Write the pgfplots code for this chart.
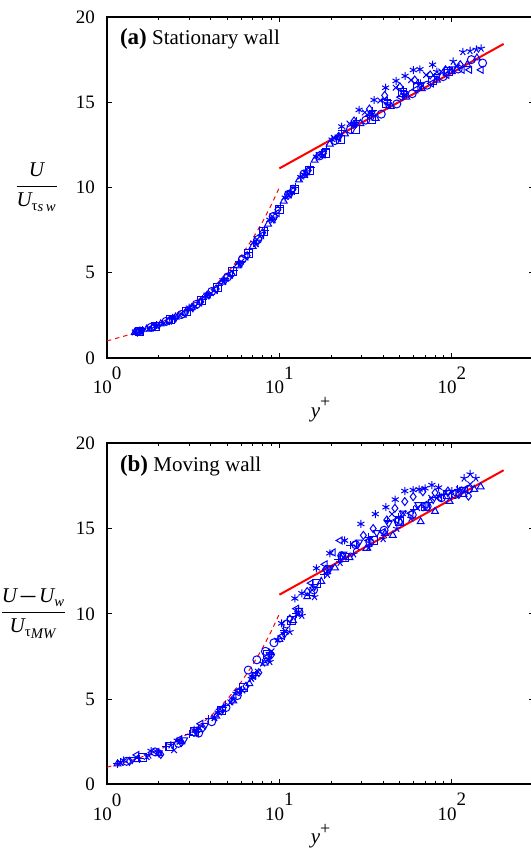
\documentclass[border=0pt]{standalone}
\usepackage{amsmath}
\usepackage{fontspec}
\setmainfont{Liberation Serif}
\usepackage{pgfplots}
\pgfplotsset{compat=1.18}

\pgfplotsset{
  wallax/.style={
    scale only axis, width=213.5pt, height=170.5pt,
    xmin=1, xmax=300, ymin=0, ymax=20,
    xtick={1,10,100},
    xticklabels={{10\raisebox{0.75em}{0}},{10\raisebox{0.75em}{1}},{10\raisebox{0.75em}{2}}},
    ytick={0,5,10,15,20},
    /pgf/number format/assume math mode=true,
    tick label style={font=\fontsize{9.5}{11}\selectfont},
    yticklabel style={xshift=-2.5pt},
    xticklabel style={yshift=-1pt},
    major tick length=2.5pt, minor tick length=1.5pt,
    every tick/.style={black, line width=0.4pt},
    axis line style={line width=1pt},
    label style={font=\fontsize{10.5}{12}\selectfont},
    xlabel={\textit{y}\raisebox{0.45em}{\fontsize{9}{10}\selectfont +}},
    xlabel style={at={(axis description cs:0.5,-0.152)}, anchor=center},
    ylabel style={rotate=-90, anchor=center},
    clip=false,
  },
  pts/.style={only marks, blue, mark size=2pt, mark options={solid, line width=0.5pt, fill=none}},
  tdown/.style={pts, mark=triangle, every mark/.append style={rotate=180}},
  tleft/.style={pts, mark=triangle, every mark/.append style={rotate=90}},
  loglaw/.style={red, line width=1pt},
  linlaw/.style={red, line width=0.5pt, dash pattern=on 2.2pt off 2pt},
}

\begin{document}
\begin{tikzpicture}
\useasboundingbox (0,0) rectangle (265pt,424.5pt);

% ---------------- (a) stationary wall ----------------
\begin{axis}[xmode=log, wallax, at={(53.5pt,245.5pt)}, anchor=south west,
  ylabel={$\dfrac{\textit{U}}{\textit{U}_{\text{τ\raisebox{-0.25ex}{\textit{s\,w}}}}}$},
  ylabel style={at={(axis description cs:-0.165,0.5)}}]
\addplot[linlaw] coordinates {(1,1) (1.5,1.5) (2,2) (3,3) (4,4) (5,5) (6,6) (7,7) (8,8) (9,9) (10,10)};
\addplot[loglaw] coordinates {(10,11.12) (200,18.42)};
% asterisk
\addplot[pts, mark=asterisk] coordinates {(1.55,1.6) (1.9,1.85) (2.4,2.35) (3.0,2.95) (3.8,3.7) (4.7,4.55) (5.8,5.55) (7.1,6.75) (8.8,8.1) (10.8,9.4) (13.3,10.6) (16.4,11.8) (20.2,12.8) (23,13.57) (29,14.55) (35.4,15.13) (41.3,15.85) (47.5,16.25) (53.6,16.54) (59.8,16.89) (65.4,16.93) (77.4,17.2)};
% diamond
\addplot[pts, mark=diamond] coordinates {(1.5,1.52) (1.85,1.8) (2.3,2.2) (2.85,2.65) (3.5,3.3) (4.3,4.05) (5.3,4.9) (6.5,6.0) (8.0,7.35) (9.8,8.7) (12.0,9.9) (14.7,11.0) (18.0,12.0) (22.1,13.0) (27.1,13.9) (33.3,14.6) (40.8,15.4) (50,15.9) (61,16.3) (75,16.6) (92,16.9) (112,17.2)};
% x
\addplot[pts, mark=x] coordinates {(1.45,1.5) (1.75,1.72) (2.15,2.05) (2.65,2.5) (3.25,3.05) (4.0,3.8) (4.9,4.65) (6.0,5.65) (7.4,6.95) (9.1,8.3) (11.2,9.6) (13.7,10.75) (16.9,11.9) (20.7,12.9) (25.5,13.75) (31.3,14.4) (38.5,15.1) (47.3,15.85) (58,16.3) (71,16.6) (87,16.8) (107,17.1)};
% plus
\addplot[pts, mark=+] coordinates {(1.6,1.65) (1.95,1.92) (2.4,2.3) (2.95,2.8) (3.6,3.45) (4.45,4.25) (5.45,5.15) (6.7,6.2) (8.2,7.5) (10.1,8.85) (12.4,10.0) (15.2,11.2) (18.7,12.3) (23,13.35) (28.2,13.9) (34.7,14.5) (42.6,15.1) (52.3,15.7) (64.2,16.1) (79,16.5) (97,16.9)};
% circle
\addplot[pts, mark=o] coordinates {(1.5,1.55) (1.8,1.8) (2.2,2.15) (2.7,2.55) (3.3,3.15) (4.05,3.9) (5.0,4.75) (6.1,5.8) (7.5,6.95) (9.2,8.3) (11.3,9.6) (13.9,10.8) (17.1,11.85) (21,12.75) (25.8,13.4) (31.7,13.95) (39,14.3) (48,14.9) (59,15.5) (72,16.0) (89,16.5) (109,16.95) (130,17.5) (151,17.3)};
% square
\addplot[pts, mark=square] coordinates {(1.55,1.58) (1.9,1.85) (2.35,2.25) (2.9,2.75) (3.55,3.35) (4.35,4.15) (5.35,5.05) (6.6,6.1) (8.1,7.4) (9.95,8.7) (12.2,9.9) (15,11.0) (18.4,12.0) (22.6,12.8) (27.8,13.4) (34.1,14.0) (41.9,14.9) (51.5,15.6) (63.2,15.9) (77.6,16.3) (95.3,16.8)};
% triangle up
\addplot[pts, mark=triangle] coordinates {(1.45,1.5) (1.7,1.7) (2.05,2.0) (2.5,2.4) (3.1,2.95) (3.8,3.65) (4.65,4.45) (5.7,5.4) (7.0,6.55) (8.6,7.85) (10.6,9.2) (13,10.45) (16,11.6) (19.6,12.55) (24,13.15) (29.5,13.75) (36.2,14.05) (44.4,14.75) (54.5,15.3) (67,15.8) (82,16.3) (100,16.8) (123,17.2) (140,17.6)};
% triangle down
\addplot[tdown] coordinates {(1.6,1.6) (2.0,1.95) (2.5,2.35) (3.15,2.95) (3.9,3.7) (4.85,4.55) (6.0,5.55) (7.45,6.8) (9.3,8.15) (11.6,9.65) (14.4,10.85) (17.9,12.0) (22.2,12.95) (27.6,13.7) (34.3,14.35) (42.6,14.85) (53,15.5) (65.8,16.0) (81.7,16.5) (101,16.95)};
% triangle left
\addplot[tleft] coordinates {(1.5,1.55) (1.85,1.82) (2.3,2.2) (2.8,2.6) (3.45,3.25) (4.25,4.0) (5.2,4.9) (6.4,5.95) (7.9,7.2) (9.7,8.5) (11.9,9.8) (14.6,10.95) (18,11.95) (22.1,12.9) (27.2,13.75) (33.4,14.2) (41.1,15.1) (50.5,15.3) (62,15.75) (76.3,16.1) (93.8,16.6) (115,16.9) (127,16.9) (148,16.9)};
% star
\addplot[pts, mark=star] coordinates {(1.55,1.6) (1.95,1.92) (2.45,2.35) (3.05,2.9) (3.8,3.65) (4.75,4.5) (5.9,5.5) (7.35,6.7) (9.2,8.1) (11.4,9.55) (14.2,10.75) (17.7,11.9) (22,13.0) (27.4,13.75) (34.1,14.3) (42.5,14.85) (52.9,15.45) (65.8,16.1) (82,16.8) (102,17.4) (116,17.96) (127.6,18.02) (139,18.1) (148,18.16)};
\node[anchor=base west, font=\fontsize{10.5}{12}\selectfont] at (rel axis cs:0.014,0.918) {{\fontsize{11.5}{13}\selectfont\textbf{(a)}} Stationary wall};
\end{axis}

% ---------------- (b) moving wall ----------------
\begin{axis}[xmode=log, wallax, at={(53.5pt,32.35pt)}, anchor=south west,
  ylabel={$\dfrac{\textit{U}\mkern1mu{\boldsymbol{-}}\mkern1mu\textit{U}_{\textit{w}}}{\textit{U}_{\text{τ\raisebox{-0.35ex}{\textit{MW}}}}}$},
  ylabel style={at={(axis description cs:-0.172,0.5)}}]
\addplot[linlaw] coordinates {(1,1) (1.5,1.5) (2,2) (3,3) (4,4) (5,5) (6,6) (7,7) (8,8) (9,9) (10,10)};
\addplot[loglaw] coordinates {(10,11.12) (200,18.42)};
% asterisk
\addplot[pts, mark=asterisk] coordinates {(1.25,1.4) (1.8,1.95) (2.55,2.55) (3.3,3.15) (4.4,4.2) (5.6,5.3) (7.0,6.3) (8.6,7.3) (10.3,9.44) (12.3,10.9) (13.5,11.2) (16.4,12.67) (19.6,13.55) (23.9,14.3) (29.7,15.27) (36,15.85) (41.5,16.25) (47,16.7) (53.4,17.2) (59.7,17.26) (64.6,17.3) (70,17.36) (76.7,17.55) (84,17.4)};
% diamond
\addplot[pts, mark=diamond] coordinates {(1.35,1.35) (2.05,1.75) (2.7,2.45) (3.6,3.3) (4.6,4.3) (5.3,4.9) (6.4,5.75) (7.6,6.55) (9.0,7.6) (11.5,9.7) (14.5,11.3) (18.5,12.6) (23,13.4) (30.7,14.6) (35,15.0) (42,15.5) (46.8,16.19) (53.4,16.58) (59.7,16.87) (68,17.16) (80,17.1) (95,17.2) (110,17.0) (125,16.9)};
% x
\addplot[pts, mark=x] coordinates {(1.2,1.25) (1.7,1.6) (2.45,2.0) (3.3,2.95) (4.2,3.9) (5.2,4.8) (6.1,5.5) (7.5,6.6) (9.0,7.8) (10.8,9.0) (12.7,10.0) (15.5,11.4) (19,12.5) (23.5,13.3) (28,13.9) (34,14.4) (45,15.85) (52,15.9) (63,16.2) (76,16.8) (92,17.1) (110,17.3) (128,17.6)};
% plus
\addplot[pts, mark=+] coordinates {(1.15,1.2) (1.55,1.5) (2.2,2.2) (3.0,2.95) (3.9,3.85) (4.9,4.65) (6.0,5.55) (7.3,6.4) (8.8,7.6) (10.6,9.0) (12.5,10.0) (15,11.1) (18.2,12.3) (22,13.2) (25.7,14.03) (33,14.5) (42.4,15.5) (49,15.7) (60,16.1) (73,16.5) (90,17.0) (108,17.3)};
% circle
\addplot[pts, mark=o] coordinates {(1.3,1.35) (1.9,1.9) (2.6,2.4) (3.4,3.0) (4.05,3.67) (4.9,4.5) (5.7,5.2) (6.6,6.7) (7.4,7.3) (8.3,7.8) (9.3,8.3) (11.0,9.4) (13.0,10.1) (15.8,11.4) (19,12.6) (23,13.4) (27.7,14.05) (33.5,14.2) (40.5,14.9) (49,15.4) (59,15.8) (72,16.3) (87,16.8) (105,17.0) (125,17.3)};
% square
\addplot[pts, mark=square] coordinates {(1.6,1.6) (2.3,2.2) (3.2,3.1) (4.6,4.3) (6.2,5.7) (8.5,7.6) (11.8,9.6) (16.5,11.8) (24,13.3) (35,14.3) (50,15.4) (70,16.3) (95,17.0)};
% triangle up
\addplot[pts, mark=triangle] coordinates {(1.15,1.2) (1.5,1.45) (2.0,1.8) (2.7,2.5) (3.4,3.2) (4.3,4.0) (5.4,4.9) (6.7,5.9) (8.2,7.1) (10,8.5) (12,9.6) (14.5,11.0) (17.5,11.9) (21,12.7) (25.5,13.3) (32,13.84) (41,14.72) (45.5,14.6) (50.3,15.37) (66,15.4) (80,16.0) (97,16.6) (117,17.0) (135,17.3) (147,17.45)};
% triangle down
\addplot[tdown] coordinates {(1.4,1.45) (2.0,1.85) (2.8,2.6) (3.7,3.45) (4.7,4.4) (5.9,5.45) (7.2,6.45) (8.8,7.6) (10.7,8.8) (13,10.2) (16,11.6) (19.5,12.7) (23.5,13.5) (29,14.2) (36.7,14.76) (43,15.3) (52,15.9) (64,16.4) (78,16.7) (95,17.1) (116,17.3)};
% triangle left
\addplot[tleft] coordinates {(1.49,1.72) (1.95,1.9) (2.65,2.65) (3.5,3.55) (4.55,4.4) (5.8,5.5) (7.1,6.35) (8.6,7.5) (10.4,8.7) (12.6,10.3) (15.3,11.8) (18.4,12.9) (20.5,13.6) (22.5,14.3) (27.3,14.1) (33,14.3) (40,14.8) (48,15.5) (58,15.9) (70,16.4) (85,16.8) (103,17.1) (120,17.3)};
% star
\addplot[pts, mark=star] coordinates {(1.2,1.3) (1.75,1.7) (2.35,2.3) (3.2,3.2) (4.2,3.9) (5.4,5.0) (6.9,6.2) (8.0,7.1) (8.8,7.19) (9.8,8.5) (11.5,8.95) (13.5,9.9) (16,11.0) (19,12.3) (22.5,13.0) (27,13.5) (33,13.9) (40,14.4) (48,15.0) (58,15.6) (70,16.2) (85,16.9) (100,17.2) (118,17.95) (128,18.2) (138,17.95)};
\node[anchor=base west, font=\fontsize{10.5}{12}\selectfont] at (rel axis cs:0.014,0.918) {{\fontsize{11.5}{13}\selectfont\textbf{(b)}} Moving wall};
\end{axis}
\end{tikzpicture}
\end{document}
